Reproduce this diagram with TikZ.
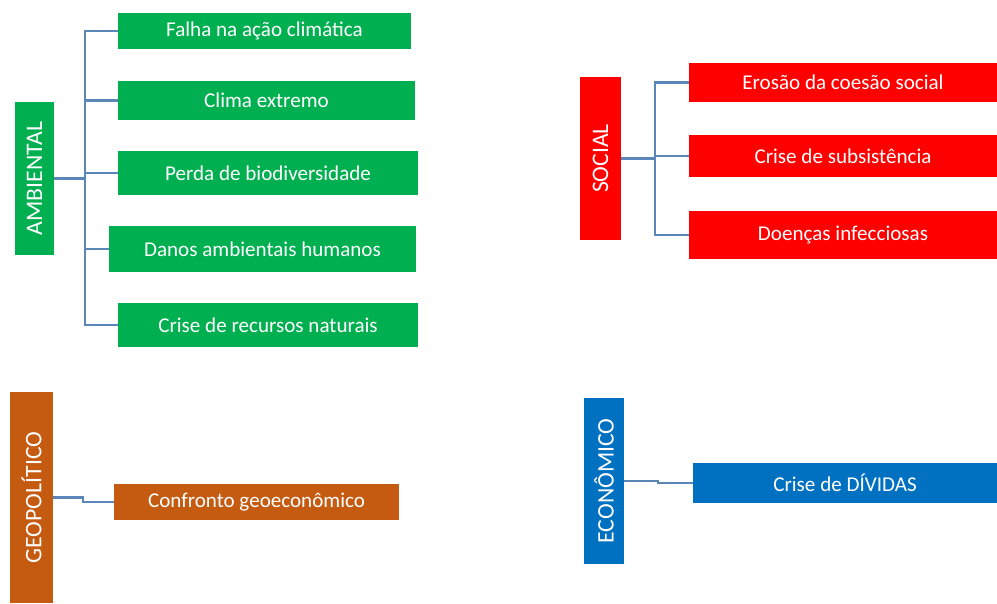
\documentclass[tikz,border=0pt]{standalone}
\usepackage{fontspec}
\setmainfont{Carlito}
\usetikzlibrary{positioning}
\definecolor{verde}{HTML}{00B050}
\definecolor{vermelho}{HTML}{FF0000}
\definecolor{laranja}{HTML}{C55A11}
\definecolor{azul}{HTML}{0070C0}
\definecolor{linha}{HTML}{5B86B8}
\tikzset{
    cat/.style =    {rectangle,
                    rotate=90,
                    text=white,
                    inner sep=0pt,
                    font=\fontsize{13.5}{16}\selectfont},
    item/.style =   {rectangle,
                    text=white,
                    inner sep=0pt,
                    font=\fontsize{12}{14}\selectfont},
    ramo/.style =   {draw=linha,
                    line width=1.5pt},
    -}

\begin{document}
\begin{tikzpicture}[x=0.02cm,y=-0.02cm]
            \useasboundingbox (0,0) rectangle (997,603);
            % ambiental
            \node[cat,fill=verde,minimum width=3.06cm,minimum height=0.78cm] (amb) at (34.5,178.5) {AMBIENTAL};
            \node[item,fill=verde,minimum width=5.86cm,minimum height=0.72cm] (a1) at (264.5,31)   {Falha na ação climática};
            \node[item,fill=verde,minimum width=5.94cm,minimum height=0.78cm] (a2) at (266.5,100.5) {Clima extremo};
            \node[item,fill=verde,minimum width=6.00cm,minimum height=0.88cm] (a3) at (268,173)    {Perda de biodiversidade};
            \node[item,fill=verde,minimum width=6.14cm,minimum height=0.92cm] (a4) at (262.5,249)  {Danos ambientais humanos};
            \node[item,fill=verde,minimum width=6.00cm,minimum height=0.88cm] (a5) at (268,325)    {Crise de recursos naturais};
            \coordinate (ambj) at (85,178.5);
            \draw[ramo] (amb.south) -- (ambj);
            \foreach \n in {a1,a2,a3,a4,a5}
                \draw[ramo] (ambj) |- (\n.west);
            % social
            \node[cat,fill=vermelho,minimum width=3.26cm,minimum height=0.82cm] (soc) at (600.5,158.5) {SOCIAL};
            \node[item,fill=vermelho,minimum width=6.16cm,minimum height=0.78cm] (s1) at (843,82.5) {Erosão da coesão social};
            \node[item,fill=vermelho,minimum width=6.16cm,minimum height=0.84cm] (s2) at (843,156)  {Crise de subsistência};
            \node[item,fill=vermelho,minimum width=6.16cm,minimum height=0.96cm] (s3) at (843,235)  {Doenças infecciosas};
            \coordinate (socj) at (655,158.5);
            \draw[ramo] (soc.south) -- (socj);
            \foreach \n in {s1,s2,s3}
                \draw[ramo] (socj) |- (\n.west);
            % geopolitico
            \node[cat,fill=laranja,minimum width=4.22cm,minimum height=0.86cm] (geo) at (31.5,497.5) {GEOPOLÍTICO};
            \node[item,fill=laranja,minimum width=5.70cm,minimum height=0.72cm] (g1) at (256.5,502) {Confronto geoeconômico};
            \coordinate (geoj) at (83,497.5);
            \draw[ramo] (geo.south) -- (geoj) |- (g1.west);
            % economico
            \node[cat,fill=azul,minimum width=3.32cm,minimum height=0.80cm] (eco) at (604,481) {ECONÔMICO};
            \node[item,fill=azul,minimum width=6.08cm,minimum height=0.80cm] (e1) at (845,483) {Crise de DÍVIDAS};
            \coordinate (ecoj) at (658,481);
            \draw[ramo] (eco.south) -- (ecoj) |- (e1.west);
        \end{tikzpicture}
\end{document}
